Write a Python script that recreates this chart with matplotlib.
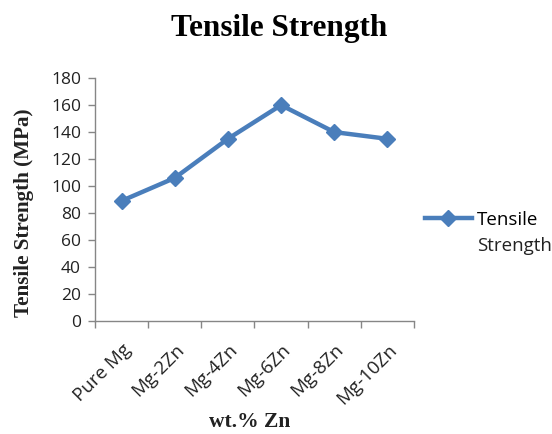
import matplotlib
matplotlib.use('Agg')
import matplotlib.pyplot as plt
from matplotlib.lines import Line2D

# Tensile strength of Mg-Zn alloys
alloys = ['Pure Mg', 'Mg-2Zn', 'Mg-4Zn', 'Mg-6Zn', 'Mg-8Zn', 'Mg-10Zn']
strength = [89, 106, 135, 160, 140, 135]
yticks = [0, 20, 40, 60, 80, 100, 120, 140, 160, 180]

blue = '#4A7EBB'
grey = '#868686'
sans = 'Open Sans'
serif = 'Liberation Serif'

fig = plt.figure(figsize=(5.52, 4.34), dpi=100)
ax = fig.add_axes([0.172, 0.2604, 0.578, 0.5596])

x = list(range(len(alloys)))
ax.plot(x, strength, color=blue, linewidth=3.2, marker='D', markersize=8.5,
        markerfacecolor=blue, markeredgecolor=blue)

ax.set_xlim(-0.5, len(alloys) - 0.5)
ax.set_ylim(0, 180)
ax.set_yticks(yticks)
# category boundaries carry the tick marks, labels sit between them
ax.set_xticks([i - 0.5 for i in range(len(alloys) + 1)], minor=False)
ax.set_xticklabels([''] * (len(alloys) + 1))
ax.set_xticks(x, minor=True)
ax.set_xticklabels(alloys, minor=True, rotation=45, ha='right',
                   rotation_mode='anchor', fontsize=13.5, family=sans,
                   color='#222222')
ax.tick_params(axis='x', which='minor', length=0, pad=14)
ax.tick_params(axis='x', which='major', length=5, color=grey, width=1)
ax.tick_params(axis='y', length=5, color=grey, width=1, labelsize=12.5,
               pad=5, labelcolor='#222222')
for lab in ax.get_yticklabels():
    lab.set_family(sans)

for side in ['top', 'right']:
    ax.spines[side].set_visible(False)
for side in ['left', 'bottom']:
    ax.spines[side].set_color(grey)
    ax.spines[side].set_linewidth(1)

ax.set_ylabel('Tensile Strength (MPa)', family=serif, fontweight='bold',
              fontsize=15.2, color='#222222')
ax.yaxis.set_label_coords(-0.19, 0.444)
ax.set_xlabel('wt.% Zn', family=serif, fontweight='bold', fontsize=15.5,
              color='#222222')
ax.xaxis.set_label_coords(0.486, -0.375)
fig.suptitle('Tensile Strength', x=0.506, y=0.968, family=serif,
             fontweight='bold', fontsize=22.5)

# legend: handle next to the first line of the label
handle = Line2D([], [], color=blue, linewidth=3.2, marker='D', markersize=8.5)
fig.legend([handle], ['Tensile'], loc='center left',
           bbox_to_anchor=(0.770, 0.493), frameon=False, handlelength=2.5,
           handletextpad=0.25, borderpad=0, borderaxespad=0,
           prop={'family': sans, 'size': 13.5})
fig.text(0.864, 0.433, 'Strength', family=sans, fontsize=13.5,
         va='center', ha='left', color='#222222')

fig.savefig('out.png', dpi=100)
